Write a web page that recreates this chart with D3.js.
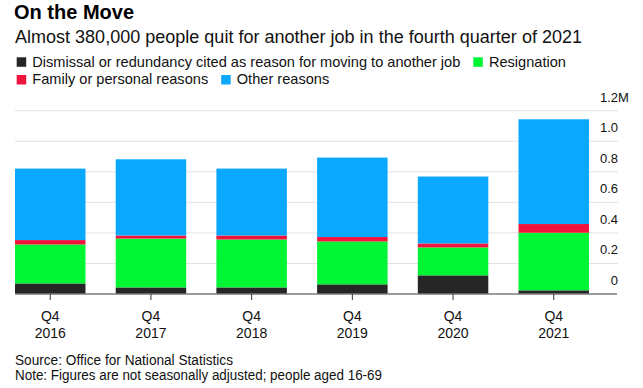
<!DOCTYPE html>
<html><head><meta charset="utf-8">
<script src="https://cdn.jsdelivr.net/npm/d3@7"></script>
<style>
body{margin:0;background:#fff;}
svg{display:block;font-family:"Liberation Sans",Arial,sans-serif;}
</style></head>
<body>
<svg id="c" width="643" height="388"></svg>
<script>
const categories = ["2016","2017","2018","2019","2020","2021"];
const quarterLabel = "Q4";
const dismissal   = [0.069, 0.043, 0.043, 0.063, 0.122, 0.024];
const resignation = [0.255, 0.320, 0.314, 0.281, 0.183, 0.377];
const family      = [0.029, 0.020, 0.026, 0.029, 0.026, 0.057];
const other       = [0.468, 0.499, 0.438, 0.520, 0.438, 0.686];
const seriesNames = ["Dismissal or redundancy cited as reason for moving to another job","Resignation","Family or personal reasons","Other reasons"];
const seriesColors = ["#262626","#00f534","#f0143c","#0aa8ff"];
const yTicks = [0, 0.2, 0.4, 0.6, 0.8, 1.0, 1.2];
const yTickLabels = ["0","0.2","0.4","0.6","0.8","1.0","1.2"];

const svg = d3.select("#c");
const keys = ["dismissal","resignation","family","other"];
const rows = categories.map((c,i)=>({cat:c, dismissal:dismissal[i], resignation:resignation[i], family:family[i], other:other[i]}));
const stack = d3.stack().keys(keys)(rows);

const x = d3.scaleBand().domain(categories).range([15, 589]).paddingInner(0.3).paddingOuter(0);
const y = d3.scaleLinear().domain([0, 1.2]).range([294, 110.7]);

function fit(sel, w){ sel.each(function(){ const n=this.getComputedTextLength(); if(Math.abs(n-w)>1){ d3.select(this).attr("textLength", w).attr("lengthAdjust","spacingAndGlyphs"); } }); }

// title
svg.append("text").attr("x",14).attr("y",19).attr("font-size",20).attr("font-weight","bold").attr("fill","#000").text("On the Move");
svg.append("text").attr("x",15).attr("y",43.3).attr("font-size",17.5).attr("fill","#111")
  .text("Almost 380,000 people quit for another job in the fourth quarter of 2021").call(fit, 567);

// legend
const legendRows = [[0,1],[2,3]];
const legendY = [57.3, 75];
let ratio = null;
legendRows.forEach((r,ri)=>{
  let cx = 16.7;
  r.forEach(si=>{
    svg.append("rect").attr("x",cx).attr("y",legendY[ri]).attr("width",9.5).attr("height",9.5).attr("fill",seriesColors[si]);
    const t = svg.append("text").attr("x",cx+15.6).attr("y",legendY[ri]+9.3).attr("font-size",15).attr("fill","#111").text(seriesNames[si]);
    const n = t.node().getComputedTextLength();
    if(ratio===null) ratio = 428/n;
    const w = n*ratio;
    t.attr("textLength", w).attr("lengthAdjust","spacingAndGlyphs");
    cx = cx + 15.6 + w + 13;
  });
});

// grid
const g = svg.append("g");
g.selectAll("line.grid").data(yTicks.filter(v=>v>0)).join("line")
  .attr("x1",15).attr("x2",618).attr("y1",d=>y(d)).attr("y2",d=>y(d))
  .attr("stroke","#e2e2e2").attr("stroke-width",1);

// bars
svg.append("g").selectAll("g").data(stack).join("g").attr("fill",(d,i)=>seriesColors[i])
  .selectAll("rect").data(d=>d).join("rect")
  .attr("x",d=>x(d.data.cat)).attr("width",x.bandwidth())
  .attr("y",d=>y(d[1])).attr("height",d=>y(d[0])-y(d[1]));

// baseline
svg.append("line").attr("x1",15).attr("x2",617).attr("y1",y(0)).attr("y2",y(0)).attr("stroke","#7a7a7a").attr("stroke-width",1.3);

// y labels
const yl = svg.append("g").attr("font-size",13).attr("fill","#111");
yTicks.forEach((v,i)=>{
  yl.append("text").attr("x",618).attr("y",y(v)-9).attr("text-anchor","end").text(yTickLabels[i]);
  if(i===yTicks.length-1) yl.append("text").attr("x",618).attr("y",y(v)-9).text("M");
});

// x ticks & labels
const xg = svg.append("g");
categories.forEach(c=>{
  const cx = x(c)+x.bandwidth()/2;
  xg.append("line").attr("x1",cx).attr("x2",cx).attr("y1",y(0)).attr("y2",y(0)+6).attr("stroke","#333").attr("stroke-width",1);
  xg.append("text").attr("x",cx).attr("y",320.7).attr("text-anchor","middle").attr("font-size",14).attr("fill","#111").text(quarterLabel);
  xg.append("text").attr("x",cx).attr("y",338.3).attr("text-anchor","middle").attr("font-size",14).attr("fill","#111").text(c);
});

// footer
svg.append("text").attr("x",15).attr("y",365).attr("font-size",14).attr("fill","#111").text("Source: Office for National Statistics").call(fit,218);
svg.append("text").attr("x",15).attr("y",380).attr("font-size",14).attr("fill","#111").text("Note: Figures are not seasonally adjusted; people aged 16-69").call(fit,367);
</script>
</body></html>
